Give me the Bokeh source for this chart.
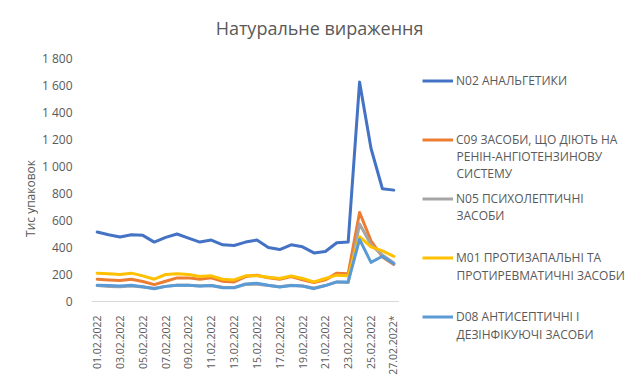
import math
from bokeh.plotting import figure
from bokeh.layouts import column, row
from bokeh.models import Range1d, FixedTicker, Legend, LegendItem, Label
from bokeh.embed import file_html
from bokeh.resources import INLINE

dates = ["01.02.2022", "02.02.2022", "03.02.2022", "04.02.2022", "05.02.2022", "06.02.2022",
         "07.02.2022", "08.02.2022", "09.02.2022", "10.02.2022", "11.02.2022", "12.02.2022",
         "13.02.2022", "14.02.2022", "15.02.2022", "16.02.2022", "17.02.2022", "18.02.2022",
         "19.02.2022", "20.02.2022", "21.02.2022", "22.02.2022", "23.02.2022", "24.02.2022",
         "25.02.2022", "26.02.2022", "27.02.2022*"]

n02 = [515, 495, 478, 495, 490, 440, 475, 500, 470, 440, 455, 420, 415, 440, 455, 400, 385,
       420, 405, 360, 370, 435, 440, 1625, 1135, 835, 825]
c09 = [165, 160, 155, 165, 148, 125, 150, 175, 175, 165, 175, 150, 145, 185, 195, 175, 165,
       185, 160, 140, 160, 210, 205, 660, 450, 330, 275]
n05 = [118, 112, 110, 115, 108, 98, 112, 120, 120, 115, 118, 105, 103, 125, 128, 118, 110,
       120, 115, 100, 118, 145, 140, 575, 420, 345, 285]
m01 = [210, 205, 200, 210, 190, 165, 200, 205, 200, 185, 190, 165, 160, 190, 190, 180, 170,
       190, 170, 145, 170, 195, 190, 480, 405, 375, 335]
d08 = [120, 118, 115, 120, 110, 95, 112, 120, 120, 115, 118, 102, 102, 130, 135, 120, 108,
       118, 115, 95, 118, 145, 145, 460, 290, 335, 280]

series_names = ["N02 АНАЛЬГЕТИКИ", "C09 ЗАСОБИ, ЩО ДІЮТЬ НА", "N05 ПСИХОЛЕПТИЧНІ",
                "M01 ПРОТИЗАПАЛЬНІ ТА", "D08 АНТИСЕПТИЧНІ І"]
extra_lines = [("РЕНІН-АНГІОТЕНЗИНОВУ", 234), ("СИСТЕМУ", 217.3), ("ЗАСОБИ", 175),
               ("ПРОТИРЕВМАТИЧНІ ЗАСОБИ", 115), ("ДЕЗІНФІКУЮЧІ ЗАСОБИ", 56)]
colors = ["#4472C4", "#ED7D31", "#A5A5A5", "#FFC000", "#5B9BD5"]
y_ticks = [0, 200, 400, 600, 800, 1000, 1200, 1400, 1600, 1800]
y_tick_labels = ["0", "200", "400", "600", "800", "1 000", "1 200", "1 400", "1 600", "1 800"]
title_text = "Натуральне вираження"
y_label_text = "Тис упаковок"

FONT = "Open Sans"
GRAY = "#595959"
ROW_H = 342


def blank_fig(w, h):
    f = figure(width=w, height=h, output_backend="svg", toolbar_location=None,
               x_axis_location=None, y_axis_location=None, min_border=0,
               x_range=Range1d(0, 1), y_range=Range1d(0, 1))
    f.frame_align = False
    f.outline_line_color = None
    f.grid.visible = False
    f.background_fill_color = "white"
    f.border_fill_color = "white"
    return f


# title strip
ft = blank_fig(640, 48)
ft.add_layout(Label(x=319, y=21, x_units="screen", y_units="screen", text=title_text,
                    text_font=FONT, text_font_size="18px", text_color=GRAY,
                    text_baseline="middle", text_align="center"))

# y label strip
fy = blank_fig(38, ROW_H)
fy.add_layout(Label(x=30, y=192, x_units="screen", y_units="screen", text=y_label_text,
                    angle=math.pi / 2, text_font=FONT, text_font_size="12px", text_color=GRAY,
                    text_baseline="middle", text_align="center"))

# main chart
p = figure(width=361, height=ROW_H, output_backend="svg", toolbar_location=None,
           x_range=Range1d(-0.5, len(dates) - 0.5), y_range=Range1d(0, 1800),
           min_border_left=49, min_border_right=0, min_border_top=10, min_border_bottom=89)
p.frame_align = False
p.outline_line_color = None
p.grid.visible = False
p.background_fill_color = "white"
p.border_fill_color = "white"

xs = list(range(len(dates)))
all_series = [n02, c09, n05, m01, d08]
for ys, c in zip(all_series, colors):
    p.line(xs, ys, line_color=c, line_width=3, line_join="round", line_cap="round")

p.xaxis.ticker = FixedTicker(ticks=xs[::2])
p.xaxis.major_label_overrides = {i: dates[i] for i in xs[::2]}
p.xaxis.major_label_orientation = math.pi / 2
p.xaxis.axis_line_color = "#D9D9D9"
p.xaxis.major_tick_line_color = None
p.xaxis.minor_tick_line_color = None
p.xaxis.major_label_standoff = 8
p.xaxis.major_label_text_font = FONT
p.xaxis.major_label_text_font_size = "10.5px"
p.xaxis.major_label_text_color = GRAY

p.yaxis.ticker = FixedTicker(ticks=y_ticks)
p.yaxis.major_label_overrides = {t: l for t, l in zip(y_ticks, y_tick_labels)}
p.yaxis.axis_line_color = None
p.yaxis.major_tick_line_color = None
p.yaxis.minor_tick_line_color = None
p.yaxis.major_label_standoff = 13
p.yaxis.major_label_text_font = FONT
p.yaxis.major_label_text_font_size = "12px"
p.yaxis.major_label_text_color = GRAY

# legend strip (series drawn out of its view, used only as legend proxies)
fl = blank_fig(241, ROW_H)
items = []
for name, ys, c in zip(series_names, all_series, colors):
    r = fl.line(xs, ys, line_color=c, line_width=3)
    items.append(LegendItem(label=name, renderers=[r]))
legend = Legend(items=items, location=(23, 65.5), padding=0, margin=0,
                glyph_width=31, glyph_height=17, label_height=17, label_standoff=3,
                spacing=42, border_line_color=None, background_fill_alpha=0,
                label_text_font=FONT, label_text_font_size="12px", label_text_color=GRAY)
fl.add_layout(legend, "center")
for txt, yy in extra_lines:
    fl.add_layout(Label(x=57, y=yy, x_units="screen", y_units="screen", text=txt,
                        text_font=FONT, text_font_size="12px", text_color=GRAY,
                        text_baseline="middle", text_align="left"))

layout = column(ft, row(fy, p, fl, spacing=0), spacing=0)
open("out.html", "w").write(file_html(layout, INLINE))
